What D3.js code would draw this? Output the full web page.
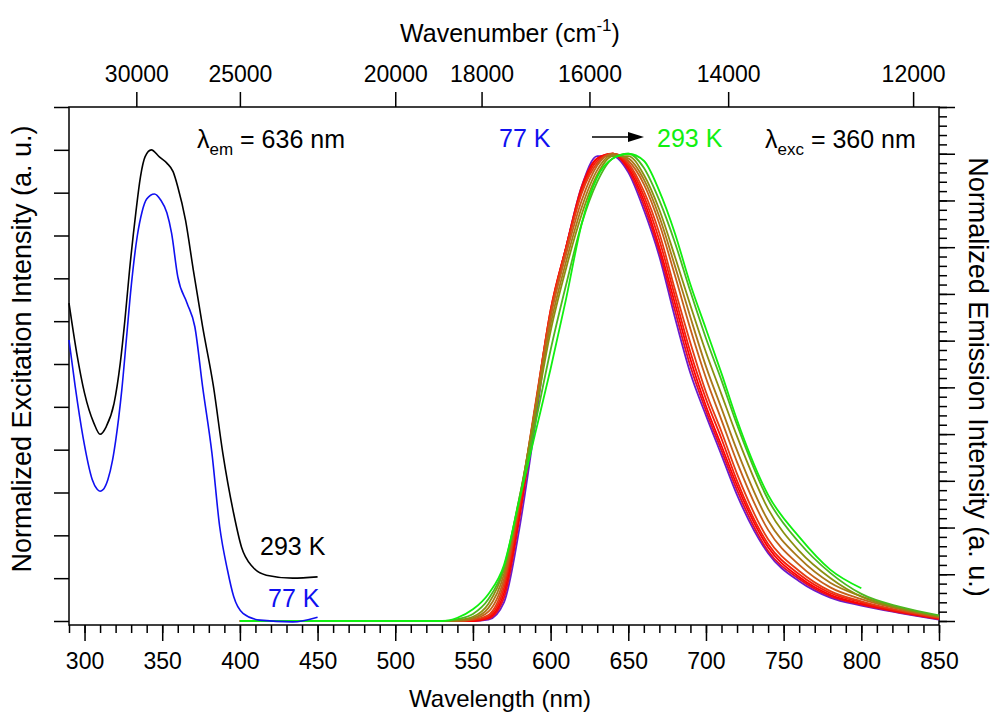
<!DOCTYPE html>
<html>
<head>
<meta charset="utf-8">
<script src="https://cdn.jsdelivr.net/npm/d3@7/dist/d3.min.js"></script>
<style>
  body { margin: 0; background: #fff; }
  text { font-family: "Liberation Sans", Arial, sans-serif; }
</style>
</head>
<body>
<svg id="chart"></svg>
<script>
// excitation spectra (left axis), 293 K trace is offset by +0.1
const exWl293 = [290, 295, 300, 306, 310, 314, 319, 323, 326, 329, 333, 336, 339, 343, 348, 353, 357, 360, 365, 370, 376, 383, 389, 396, 401, 408, 417, 434, 450];
const ex293 = [0.742, 0.625, 0.532, 0.462, 0.436, 0.454, 0.508, 0.602, 0.703, 0.820, 0.953, 1.037, 1.084, 1.100, 1.084, 1.069, 1.049, 1.014, 0.936, 0.820, 0.687, 0.547, 0.392, 0.251, 0.173, 0.127, 0.107, 0.100, 0.103];
const exWl77 = [290, 294, 299, 305, 308, 310, 312, 315, 318, 320, 322, 324, 327, 330, 334, 337, 340, 345, 349, 353, 356, 360, 366, 371, 376, 382, 387, 392, 396, 402, 413, 434, 450];
const ex77 = [0.656, 0.547, 0.430, 0.330, 0.308, 0.303, 0.307, 0.330, 0.375, 0.420, 0.475, 0.540, 0.660, 0.780, 0.900, 0.955, 0.985, 0.997, 0.983, 0.953, 0.906, 0.804, 0.742, 0.687, 0.547, 0.392, 0.220, 0.119, 0.057, 0.018, 0.002, -0.002, 0.009];

// emission spectra (right axis), 77 K -> 293 K
const emWl = [400, 530, 540, 550, 560, 570, 580, 590, 600, 610, 620, 630, 640, 650, 660, 670, 680, 690, 700, 710, 720, 740, 760, 780, 800, 825, 850];
const em1 = [0, 0, 0, 0, 0.003, 0.04, 0.20, 0.42, 0.655, 0.80, 0.93, 0.995, 0.995, 0.96, 0.88, 0.78, 0.65, 0.53, 0.44, 0.355, 0.27, 0.145, 0.085, 0.05, 0.033, 0.017, 0.003];
const em2 = [0, 0, 0, 0, 0.005, 0.05, 0.22, 0.44, 0.66, 0.80, 0.93, 0.99, 1.0, 0.965, 0.89, 0.79, 0.665, 0.545, 0.45, 0.365, 0.28, 0.15, 0.09, 0.053, 0.035, 0.018, 0.004];
const em3 = [0, 0, 0, 0, 0.007, 0.06, 0.23, 0.45, 0.665, 0.80, 0.925, 0.99, 1.0, 0.97, 0.90, 0.80, 0.68, 0.56, 0.46, 0.375, 0.29, 0.158, 0.094, 0.056, 0.037, 0.02, 0.005];
const em4 = [0, 0, 0, 0.002, 0.01, 0.07, 0.24, 0.455, 0.665, 0.80, 0.92, 0.985, 1.0, 0.975, 0.91, 0.815, 0.695, 0.575, 0.475, 0.39, 0.30, 0.165, 0.10, 0.06, 0.04, 0.021, 0.006];
const em5 = [0, 0, 0, 0.003, 0.013, 0.08, 0.25, 0.46, 0.66, 0.795, 0.915, 0.98, 1.0, 0.98, 0.92, 0.83, 0.71, 0.595, 0.49, 0.405, 0.315, 0.175, 0.107, 0.064, 0.042, 0.022, 0.007];
const em6 = [0, 0, 0, 0.004, 0.02, 0.09, 0.255, 0.455, 0.65, 0.785, 0.90, 0.975, 1.0, 0.985, 0.935, 0.85, 0.74, 0.625, 0.52, 0.43, 0.34, 0.195, 0.12, 0.072, 0.047, 0.025, 0.008];
const em7 = [0, 0, 0.001, 0.006, 0.028, 0.10, 0.26, 0.45, 0.635, 0.77, 0.885, 0.965, 0.998, 0.99, 0.945, 0.865, 0.76, 0.65, 0.545, 0.455, 0.365, 0.215, 0.135, 0.082, 0.053, 0.028, 0.009];
const em8 = [0, 0, 0.002, 0.009, 0.037, 0.11, 0.265, 0.44, 0.62, 0.755, 0.87, 0.955, 0.995, 0.995, 0.955, 0.88, 0.78, 0.675, 0.575, 0.485, 0.395, 0.24, 0.15, 0.092, 0.052, 0.027, 0.011];
const em9 = [0, 0, 0.004, 0.015, 0.047, 0.115, 0.265, 0.42, 0.58, 0.72, 0.85, 0.94, 0.99, 1.0, 0.97, 0.90, 0.81, 0.705, 0.605, 0.515, 0.42, 0.26, 0.168, 0.103, 0.058, 0.03, 0.012];
const em10 = [0, 0, 0.007, 0.025, 0.058, 0.12, 0.26, 0.40, 0.54, 0.69, 0.85, 0.95, 0.99, 1.0, 0.985, 0.92, 0.83, 0.72, 0.625, 0.53, 0.43, 0.27, 0.18, 0.11, 0.07];

const wavelengthTicks = [300, 350, 400, 450, 500, 550, 600, 650, 700, 750, 800, 850];
const wavenumberTicks = [30000, 25000, 20000, 18000, 16000, 14000, 12000];

const emColors = ["#6a1ccc", "#e0102a", "#ff0000", "#f41c0c", "#e63c12", "#c4601a", "#a87818", "#8a9010", "#4cb820", "#10f010"];

const width = 999, height = 713;
const plot = { left: 69, right: 939, top: 107, bottom: 625 };

const svg = d3.select("#chart")
    .attr("width", width)
    .attr("height", height);

const x = d3.scaleLinear().domain([290, 850]).range([plot.left, plot.right]);
const yEx = d3.scaleLinear().domain([0, 1.2]).range([621, plot.top]);
const yEm = d3.scaleLinear().domain([0, 1.1]).range([621, plot.top]);

function styleAxis(g, size) {
    g.select(".domain").remove();
    g.selectAll(".tick line").attr("stroke", "#000").attr("stroke-width", 1.5);
    g.selectAll("text").attr("font-size", size).attr("fill", "#000")
        .attr("font-family", '"Liberation Sans", Arial, sans-serif');
}

// bottom axis
svg.append("g")
    .attr("transform", `translate(0,${plot.bottom})`)
    .call(d3.axisBottom(x).tickValues(d3.range(290, 851, 10)).tickSize(8).tickFormat(""))
    .call(g => styleAxis(g, 0));
svg.append("g")
    .attr("transform", `translate(0,${plot.bottom})`)
    .call(d3.axisBottom(x).tickValues(wavelengthTicks).tickSize(16).tickPadding(12))
    .call(g => styleAxis(g, 23));

// top axis (wavenumber)
svg.append("g")
    .attr("transform", `translate(0,${plot.top})`)
    .call(d3.axisTop(x)
        .tickValues(wavenumberTicks.map(w => 1e7 / w))
        .tickFormat((d, i) => wavenumberTicks[i])
        .tickSize(15).tickPadding(10))
    .call(g => styleAxis(g, 23));

// left axis
svg.append("g")
    .attr("transform", `translate(${plot.left},0)`)
    .call(d3.axisLeft(yEx).tickValues(d3.range(0, 1.21, 0.1)).tickSize(15).tickFormat(""))
    .call(g => styleAxis(g, 0));

// right axis
svg.append("g")
    .attr("transform", `translate(${plot.right},0)`)
    .call(d3.axisRight(yEm).tickValues(d3.range(0, 1.101, 0.02)).tickSize(8).tickFormat(""))
    .call(g => styleAxis(g, 0));
svg.append("g")
    .attr("transform", `translate(${plot.right},0)`)
    .call(d3.axisRight(yEm).tickValues(d3.range(0, 1.101, 0.1)).tickSize(16).tickFormat(""))
    .call(g => styleAxis(g, 0));

// frame
svg.append("rect")
    .attr("x", plot.left).attr("y", plot.top)
    .attr("width", plot.right - plot.left).attr("height", plot.bottom - plot.top)
    .attr("fill", "none").attr("stroke", "#000").attr("stroke-width", 1.5);

// emission curves
const emSeries = [em1, em2, em3, em4, em5, em6, em7, em8, em9, em10];
const emLine = d3.line()
    .x(d => x(d[0]))
    .y(d => yEm(d[1]))
    .curve(d3.curveMonotoneX);

emSeries.forEach((vals, i) => {
    svg.append("path")
        .datum(vals.map((v, j) => [emWl[j], v]))
        .attr("d", emLine)
        .attr("fill", "none")
        .attr("stroke", emColors[i])
        .attr("stroke-width", 1.8);
});

// excitation curves
const exLine = d3.line()
    .x(d => x(d[0]))
    .y(d => yEx(d[1]))
    .curve(d3.curveMonotoneX);

svg.append("path")
    .datum(exWl293.map((w, i) => [w, ex293[i]]))
    .attr("d", exLine)
    .attr("fill", "none").attr("stroke", "#000").attr("stroke-width", 1.6);

svg.append("path")
    .datum(exWl77.map((w, i) => [w, ex77[i]]))
    .attr("d", exLine)
    .attr("fill", "none").attr("stroke", "#1010f0").attr("stroke-width", 1.6);

// axis titles
svg.append("text")
    .attr("x", 500).attr("y", 707)
    .attr("text-anchor", "middle").attr("font-size", 24)
    .text("Wavelength (nm)");

const topTitle = svg.append("text")
    .attr("x", 510).attr("y", 42)
    .attr("text-anchor", "middle").attr("font-size", 25);
topTitle.append("tspan").text("Wavenumber (cm");
topTitle.append("tspan").attr("font-size", 17).attr("dy", -11).text("-1");
topTitle.append("tspan").attr("dy", 11).text(")");

svg.append("text")
    .attr("transform", "translate(31,349) rotate(-90)")
    .attr("text-anchor", "middle").attr("font-size", 27)
    .text("Normalized Excitation Intensity (a. u.)");

svg.append("text")
    .attr("transform", "translate(969,377) rotate(90)")
    .attr("text-anchor", "middle").attr("font-size", 27)
    .text("Normalized Emission Intensity (a. u.)");

// annotations
function lambdaLabel(xPos, sub, rest) {
    const t = svg.append("text").attr("x", xPos).attr("y", 148).attr("font-size", 25);
    t.append("tspan").text("λ");
    t.append("tspan").attr("font-size", 17).attr("dy", 7).text(sub);
    t.append("tspan").attr("dy", -7).text(rest);
}
lambdaLabel(197, "em", " = 636 nm");
lambdaLabel(765, "exc", " = 360 nm");

svg.append("text").attr("x", 499).attr("y", 147).attr("font-size", 25)
    .attr("fill", "#1010f0").text("77 K");
svg.append("text").attr("x", 657).attr("y", 147).attr("font-size", 25)
    .attr("fill", "#10f010").text("293 K");

svg.append("line")
    .attr("x1", 592).attr("y1", 137).attr("x2", 630).attr("y2", 137)
    .attr("stroke", "#000").attr("stroke-width", 1.5);
svg.append("path")
    .attr("d", "M628,132 L644,137 L628,142 Z")
    .attr("fill", "#000");

svg.append("text").attr("x", 260).attr("y", 555).attr("font-size", 25)
    .attr("fill", "#000").text("293 K");
svg.append("text").attr("x", 268).attr("y", 607).attr("font-size", 25)
    .attr("fill", "#1010f0").text("77 K");
</script>
</body>
</html>
